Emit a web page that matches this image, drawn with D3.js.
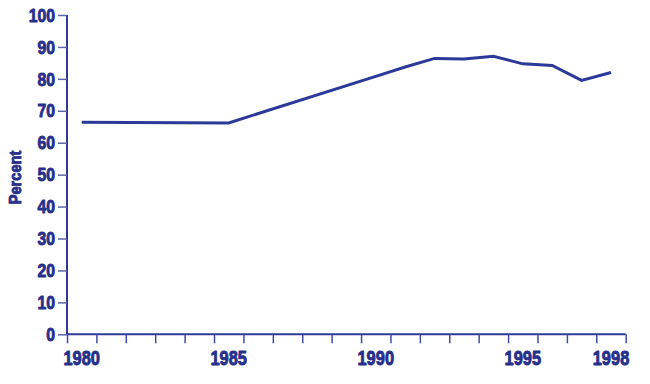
<!DOCTYPE html>
<html><head><meta charset="utf-8">
<script src="https://cdn.jsdelivr.net/npm/d3@7"></script>
<style>
body{margin:0;background:#fff;}
text{font-family:"Liberation Sans",Arial,sans-serif;font-weight:bold;fill:#26308a;stroke:#26308a;stroke-width:0.9;stroke-linejoin:round;}
</style></head><body>
<svg id="c" width="650" height="384"></svg>
<script>
const years = [1980, 1985, 1990, 1991, 1992, 1993, 1994, 1995, 1996, 1997, 1998];
const values = [66.4, 66.2, 80.8, 83.7, 86.4, 86.2, 87.1, 84.7, 84.2, 79.5, 82.0];
const yTicks = [0,10,20,30,40,50,60,70,80,90,100];
const xLabels = [1980, 1985, 1990, 1995, 1998];
const yTitle = "Percent";

const svg = d3.select("#c");
const x = d3.scaleLinear().domain([1980, 1999]).range([67, 625.7]);
const y = d3.scaleLinear().domain([0, 100]).range([334.3, 15]);
const axisCol = "#2e3b96";
const FS = 19, SX = 0.83;

// y axis
const ya = svg.append("g").attr("transform", "translate(67,0)")
  .call(d3.axisLeft(y).tickValues(yTicks).tickSize(9).tickFormat(""));
ya.select(".domain").attr("stroke", axisCol).attr("stroke-width", 2).attr("d", `M0,${y(100)}V${y(0)}`);
ya.selectAll(".tick line").attr("stroke", "#5b67ad").attr("stroke-width", 1.5);

svg.append("g").selectAll("text").data(yTicks).join("text")
  .attr("transform", d => `translate(55,${y(d)}) scale(${SX},1)`)
  .attr("dy", "0.35em").attr("text-anchor", "end").attr("font-size", FS)
  .text(d => d);

// x axis
const boundaries = d3.range(1980, 2000);
const xa = svg.append("g").attr("transform", `translate(0,${y(0)})`)
  .call(d3.axisBottom(x).tickValues(boundaries).tickSize(9).tickFormat(""));
xa.select(".domain").attr("stroke", axisCol).attr("stroke-width", 2).attr("d", `M${x(1980)},0H${x(1999)}`);
xa.selectAll(".tick line").attr("stroke", "#3f4ca0").attr("stroke-width", 1.5);

svg.append("g").selectAll("text").data(xLabels).join("text")
  .attr("transform", d => `translate(${x(d + 0.5)},364.5) scale(${SX},1)`)
  .attr("text-anchor", "middle").attr("font-size", FS + 0.8)
  .text(d => d);

svg.append("text")
  .attr("transform", "translate(21,177.5) rotate(-90) scale(0.86,1)")
  .attr("text-anchor", "middle").attr("font-size", 17)
  .text(yTitle);

// line
const line = d3.line().x((d, i) => x(years[i] + 0.5)).y(d => y(d));
svg.append("path").datum(values).attr("d", line)
  .attr("fill", "none").attr("stroke", "#2b3a98").attr("stroke-width", 3)
  .attr("stroke-linejoin", "miter");
</script>
</body></html>
